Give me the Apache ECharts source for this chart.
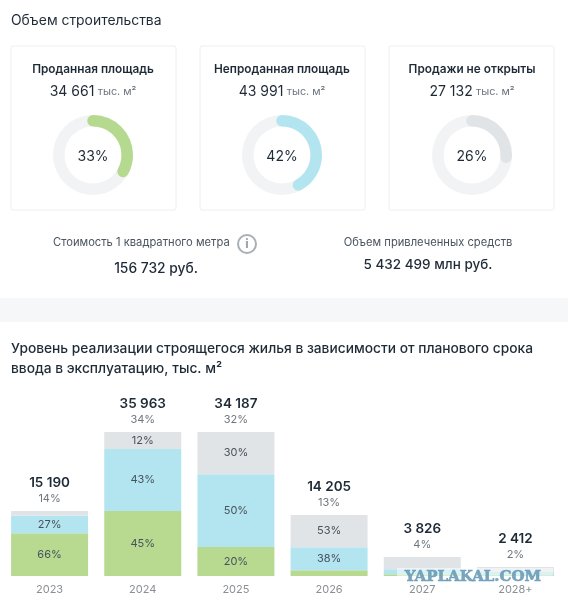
<!DOCTYPE html>
<html><head><meta charset="utf-8">
<script src="https://cdn.jsdelivr.net/npm/echarts@6/dist/echarts.min.js"></script>
<style>html,body{margin:0;padding:0;background:#fff}#c{width:568px;height:607px}</style>
</head><body><div id="c"></div>
<script>
const cardTitles = ['Проданная площадь','Непроданная площадь','Продажи не открыты'];
const cardAreas = ['34 661','43 991','27 132'];
const cardPercents = [33,42,26];
const cardColors = ['#b5d98e','#b3e5f0','#e1e4e6'];
const years = ['2023','2024','2025','2026','2027','2028+'];
const totals = ['15 190','35 963','34 187','14 205','3 826','2 412'];
const shares = ['14%','34%','32%','13%','4%','2%'];
const soldValues = [10675,16250,7250,1425,425,250];
const unsoldValues = [4400,15500,18175,5750,1250,750];
const closedValues = [1175,4250,10575,8075,3075,1250];
const soldPct = ['66%','45%','20%','','',''];
const unsoldPct = ['27%','43%','50%','38%','',''];
const closedPct = ['','12%','30%','53%','',''];
const font = 'Inter';
const dark = '#1f2a37';

const cardX = [11,200,389];
const cardCx = [93,282,472];
const graphics = [
  {type:'rect',z:0,shape:{x:0,y:298,width:568,height:24},style:{fill:'#f6f7f8'}},
  {type:'text',x:11,y:21,style:{text:'Объем строительства',font:'400 13.9px '+font,fill:dark,verticalAlign:'middle'}},
  {type:'text',x:53,y:242.5,style:{text:'Стоимость 1 квадратного метра',font:'400 11.2px '+font,fill:'#4a5560',verticalAlign:'middle'}},
  {type:'circle',shape:{cx:247,cy:244,r:9},style:{fill:'#fff',stroke:'#a9afb3',lineWidth:2}},
  {type:'text',x:247,y:244.5,style:{text:'i',font:'800 12px '+font,fill:'#a0a6aa',align:'center',verticalAlign:'middle'}},
  {type:'text',x:156,y:268.5,style:{text:'156 732 руб.',font:'500 13.8px '+font,fill:dark,align:'center',verticalAlign:'middle'}},
  {type:'text',x:428,y:242.5,style:{text:'Объем привлеченных средств',font:'400 11.2px '+font,fill:'#4a5560',align:'center',verticalAlign:'middle'}},
  {type:'text',x:428,y:264.5,style:{text:'5 432 499 млн руб.',font:'500 13.5px '+font,fill:dark,align:'center',verticalAlign:'middle'}},
  {type:'text',x:11,y:348.5,style:{text:'Уровень реализации строящегося жилья в зависимости от планового срока',font:'500 13.76px '+font,fill:dark,verticalAlign:'middle'}},
  {type:'text',x:11,y:368.5,style:{text:'ввода в эксплуатацию, тыс. м²',font:'500 13.76px '+font,fill:dark,verticalAlign:'middle'}},
  {type:'rect',z:50,shape:{x:397,y:568,width:156,height:15},style:{fill:'rgba(255,255,255,0.5)'}},
  {type:'text',z:51,x:473,y:577.5,style:{text:'YAPLAKAL.COM',font:'700 15px "DejaVu Serif"',fill:'rgba(105,155,185,0.9)',stroke:'rgba(105,155,185,0.9)',lineWidth:0.6,align:'center',verticalAlign:'middle'}}
];
const gauges = [];
cardTitles.forEach((t,i)=>{
  graphics.splice(1+i*3,0,
    {type:'rect',z:0,shape:{x:cardX[i],y:46,width:165,height:164,r:2},style:{fill:'#fff',stroke:'#eceef0',lineWidth:1}},
    {type:'text',z:2,x:cardCx[i],y:69.5,style:{text:t,font:'600 11.8px '+font,fill:dark,align:'center',verticalAlign:'middle'}},
    {type:'text',z:2,x:cardCx[i],y:92,style:{text:'{a|'+cardAreas[i]+'} {b|тыс. м²}',align:'center',verticalAlign:'middle',fill:dark,rich:{a:{font:'400 14px '+font,fill:dark},b:{font:'400 10.8px '+font,fill:'#6a7580'}}}}
  );
  gauges.push({
    type:'gauge',center:[cardCx[i],155],radius:40,startAngle:90,endAngle:-270,min:0,max:100,
    pointer:{show:false},axisTick:{show:false},splitLine:{show:false},axisLabel:{show:false},
    axisLine:{roundCap:false,lineStyle:{width:11.5,color:[[1,'#f1f3f5']]}},
    progress:{show:true,roundCap:true,width:11.5,itemStyle:{color:cardColors[i]}},
    title:{show:false},
    detail:{valueAnimation:false,offsetCenter:[0,2],formatter:'{value}%',fontFamily:font,fontSize:14,fontWeight:400,color:dark},
    data:[{value:cardPercents[i]}],animation:false
  });
});
function seg(name,vals,pct,color){
  return {name,type:'bar',stack:'s',barWidth:77,data:vals,itemStyle:{color},animation:false,
    label:{show:true,position:'inside',fontFamily:font,fontSize:11,color:'#47525c',formatter:p=>pct[p.dataIndex]}};
}
const option = {
  backgroundColor:'#fff',
  graphic:graphics,
  grid:{left:3,right:6,top:432,bottom:31,containLabel:false},
  xAxis:{type:'category',data:years,axisLine:{show:false},axisTick:{show:false},
    axisLabel:{margin:8,color:'#8a8f94',fontFamily:font,fontSize:11}},
  yAxis:{type:'value',min:0,max:36000,show:false,splitLine:{show:false}},
  series:[
    ...gauges,
    seg('Продано',soldValues,soldPct,'#b8da90'),
    seg('Не продано',unsoldValues,unsoldPct,'#b3e5f0'),
    seg('Не открыты',closedValues,closedPct,'#e1e4e6'),
    {name:'Итого',type:'bar',stack:'s',barWidth:77,data:years.map(()=>0),itemStyle:{color:'transparent'},animation:false,
      label:{show:true,position:'top',distance:5,formatter:p=>'{t|'+totals[p.dataIndex]+'}\n{s|'+shares[p.dataIndex]+'}',
        rich:{t:{fontFamily:font,fontSize:13.5,fontWeight:600,color:dark,lineHeight:17,align:'center'},
              s:{fontFamily:font,fontSize:11,color:'#6f777e',lineHeight:15,align:'center'}}}}
  ]
};
echarts.init(document.getElementById('c')).setOption(option);
</script></body></html>
